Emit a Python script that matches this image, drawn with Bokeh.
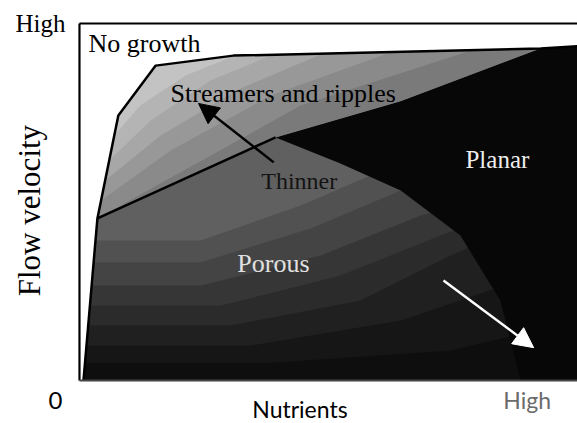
from bokeh.plotting import figure
from bokeh.models import Range1d, Label, Arrow, NormalHead
from bokeh.embed import file_html
from bokeh.resources import INLINE

# ---- data (x: nutrients 0..100, y: flow velocity 0..100) ----
# boundary of growth ("No growth" line)
nogrowth_x = [0.8, 3.6, 7.8, 15.3, 30.9, 92.6, 100.0]
nogrowth_y = [0.0, 45.4, 74.2, 88.2, 91.0, 93.0, 93.6]
# line separating streamers/ripples from porous ("Thinner")
thin_x = [3.6, 39.4]
thin_y = [45.4, 68.1]
# planar region upper edge and lower edge
planar_top_x = [39.4, 64.5, 92.6, 100.0]
planar_top_y = [68.1, 78.2, 93.0, 93.6]
planar_bot_x = [39.4, 52.4, 64.5, 76.5, 84.5, 88.6]
planar_bot_y = [68.1, 60.8, 53.2, 40.6, 22.4, 0.0]

# porous shading levels (upper edge of each darker zone)
porous_levels = [
    ([3.23, 24.3, 44.4, 58.4, 100.0], [39.2, 39.2, 49.0, 57.4, 67.2], 0.15),
    ([2.85, 24.3, 46.4, 64.5, 100.0], [33.1, 33.1, 42.6, 53.2, 63.0], 0.15),
    ([2.45, 24.3, 48.4, 68.5, 100.0], [26.6, 26.6, 35.0, 46.2, 58.8], 0.20),
    ([2.11, 28.3, 52.4, 72.5, 100.0], [21.0, 21.0, 29.4, 40.6, 54.6], 0.20),
    ([1.76, 30.3, 56.4, 74.5, 100.0], [15.4, 15.4, 22.4, 35.0, 50.4], 0.25),
    ([1.41, 34.3, 64.5, 100.0], [9.8, 9.8, 16.8, 33.6], 0.30),
    ([1.12, 38.3, 74.5, 100.0], [5.0, 5.0, 8.4, 16.8], 0.35),
]
# streamers lighter zones near the no-growth edge
streamer_levels = [
    ([3.6, 7.8, 15.3, 30.9, 78.5, 44.4, 20.3], [45.4, 74.2, 88.2, 91.0, 92.4, 77.0, 58.3], 0.12),
    ([4.34, 7.8, 15.3, 30.9, 62.4, 38.4, 18.3], [50.4, 74.2, 88.2, 91.0, 91.9, 79.8, 64.4], 0.12),
    ([5.16, 7.8, 15.3, 30.9, 48.4, 32.3, 16.3], [56.0, 74.2, 88.2, 91.0, 91.3, 81.8, 68.6], 0.15),
    ([5.98, 7.8, 15.3, 30.9, 38.4, 26.3, 14.3], [61.6, 74.2, 88.2, 91.0, 91.0, 84.0, 72.8], 0.15),
    ([7.0, 7.8, 15.3, 30.9, 31.3, 21.3, 12.2], [68.6, 74.2, 88.2, 91.0, 91.0, 85.4, 77.0], 0.20),
]
# arrows: (tail x, tail y, head x, head y)
thinner_arrow = [39.0, 61.1, 23.9, 77.6]
dense_arrow = [73.1, 28.0, 91.2, 9.2]

p = figure(width=577, height=423, x_range=Range1d(-15.86, 100.0), y_range=Range1d(-12.04, 106.44),
           output_backend="svg", toolbar_location=None, x_axis_location=None, y_axis_location=None,
           min_border_left=0, min_border_right=0, min_border_top=0, min_border_bottom=0,
           title=None)
p.grid.visible = False
p.outline_line_color = None
p.background_fill_color = "white"
p.border_fill_color = "white"

# streamers region
st_x = nogrowth_x[1:6] + planar_top_x[::-1][2:]
st_y = nogrowth_y[1:6] + planar_top_y[::-1][2:]
p.patch(st_x, st_y, fill_color="#7a7a7a", line_color=None)
for lx, ly, a in streamer_levels:
    p.patch(lx, ly, fill_color="white", fill_alpha=a, line_color=None)

# porous region
po_x = [nogrowth_x[0], thin_x[0]] + planar_top_x + [100.0]
po_y = [nogrowth_y[0], thin_y[0]] + planar_top_y + [0.0]
p.patch(po_x, po_y, fill_color="#606060", line_color=None)
for sx, sy, a in porous_levels:
    p.patch(sx + [100.0, nogrowth_x[0]], sy + [0.0, 0.0], fill_color="black", fill_alpha=a, line_color=None)

# planar region
pl_x = planar_top_x + [100.0] + planar_bot_x[::-1]
pl_y = planar_top_y + [0.0] + planar_bot_y[::-1]
p.patch(pl_x, pl_y, fill_color="#070707", line_color=None)

# boundary lines
p.line(nogrowth_x, nogrowth_y, line_color="black", line_width=2.5)
p.line(thin_x, thin_y, line_color="black", line_width=2.5)

# frame lines
p.line([0, 0], [0, 100], line_color="black", line_width=2.2)
p.line([0, 100], [100, 100], line_color="black", line_width=2.2)
p.line([0, 100], [0, 0], line_color="#444444", line_width=1.8)

# arrows
p.add_layout(Arrow(x_start=thinner_arrow[0], y_start=thinner_arrow[1], x_end=thinner_arrow[2], y_end=thinner_arrow[3],
                   line_color="black", line_width=2.5,
                   end=NormalHead(size=20, fill_color="black", line_color="black")))
p.add_layout(Arrow(x_start=dense_arrow[0], y_start=dense_arrow[1], x_end=dense_arrow[2], y_end=dense_arrow[3],
                   line_color="white", line_width=2.5,
                   end=NormalHead(size=20, fill_color="white", line_color="white")))

serif = "Liberation Serif"
sans = "Lato"
def lab(x, y, t, size, color="black", font=serif, angle=0, align="left"):
    p.add_layout(Label(x=x, y=y, text=t, text_font=font, text_font_size=f"{size}px", text_color=color,
                       angle=angle, text_align=align, text_baseline="alphabetic"))

lab(-12.85, 99.9, "High", 25)
lab(1.8, 94.5, "No growth", 26)
lab(18.3, 80.5, "Streamers and ripples", 26)
lab(36.5, 55.9, "Thinner", 24, color="#141414")
lab(77.5, 61.8, "Planar", 25, color="#eeeeee")
lab(31.7, 32.9, "Porous", 26, color="#e0e0e0")
lab(-10.0, 47.6, "Flow velocity", 31, angle=1.5707963, align="center")
lab(-6.2, -5.7, "0", 24, font=sans)
lab(34.7, -8.0, "Nutrients", 23, font=sans)
lab(85.1, -5.5, "High", 23, color="#6b6b6b", font=sans)

open("out.html", "w").write(file_html(p, INLINE))
